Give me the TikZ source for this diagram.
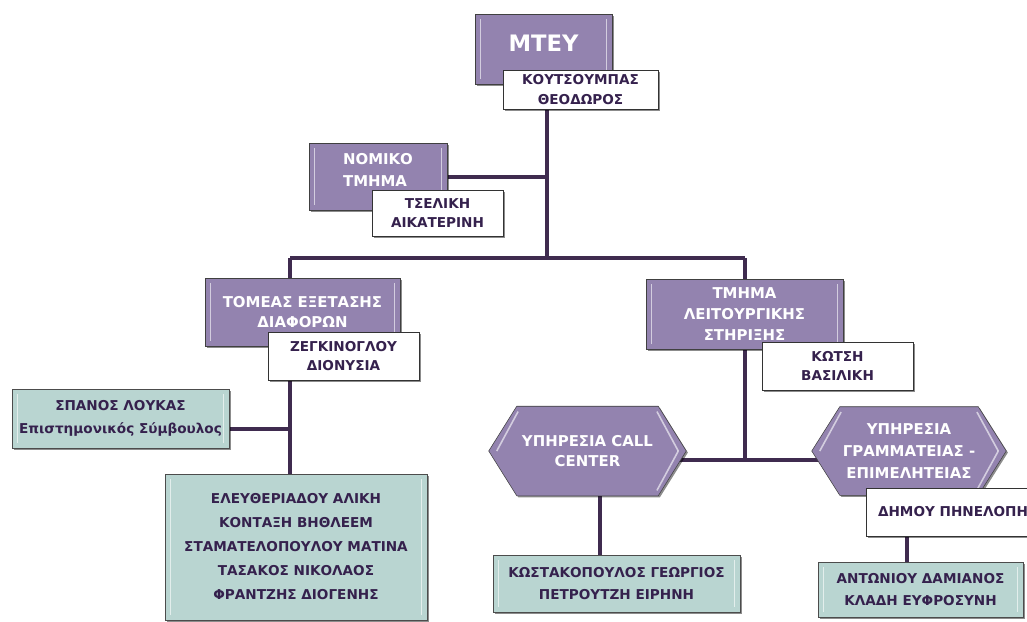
\documentclass[tikz,border=0pt]{standalone}
\usepackage{fontspec}
\setmainfont{DejaVu Sans}
\usetikzlibrary{shadows,backgrounds}
\definecolor{orgpurple}{HTML}{9383AF}
\definecolor{orggreen}{HTML}{B9D5D1}
\definecolor{orgline}{HTML}{3F2B4F}
\definecolor{orgtext}{HTML}{35214D}
\pgfdeclarelayer{lines}
\pgfsetlayers{lines,background,main}
\tikzset{
  sz/.style 2 args={minimum width={#1*0.75pt}, minimum height={#2*0.75pt}},
  boxshadow/.style={drop shadow={shadow xshift=1.2pt, shadow yshift=-1.2pt, opacity=0.45, fill=black}},
  bevel/.style={path picture={
    \draw[white,opacity=0.6,line width=1.2pt] ([xshift=4pt,yshift=-4pt]path picture bounding box.north west) -- ([xshift=4pt,yshift=4pt]path picture bounding box.south west);
    \draw[white,opacity=0.6,line width=1.2pt] ([xshift=-4pt,yshift=-4pt]path picture bounding box.north east) -- ([xshift=-4pt,yshift=4pt]path picture bounding box.south east);}},
  unitbox/.style={draw=black!75, fill=orgpurple, text=white, inner sep=0pt, align=center,
    font=\bfseries\fontsize{11.2}{15}\selectfont, boxshadow, bevel},
  namebox/.style={draw=black!80, fill=white, text=orgtext, inner sep=0pt, align=center,
    font=\bfseries\fontsize{10.2}{14.5}\selectfont, boxshadow},
  staffbox/.style={draw=black!70, fill=orggreen, text=orgtext, inner sep=0pt, align=center,
    font=\bfseries\fontsize{10.2}{17}\selectfont, boxshadow, bevel},
  hexbox/.style={inner sep=0pt, align=center, text=white, font=\bfseries\fontsize{11.2}{15}\selectfont},
  hexshape/.style={draw=black!75, fill=orgpurple, boxshadow},
  link/.style={draw=orgline, line width=3pt},
}
\begin{document}
\begin{tikzpicture}[x=0.75pt,y=-0.75pt]
\useasboundingbox (0,0) rectangle (1027,621);

\node[unitbox, sz={137}{70}, font=\bfseries\fontsize{17}{20}\selectfont, text depth=8pt] (mtey) at (543.5,49) {ΜΤΕΥ};
\node[namebox, sz={155}{39}] (mteyname) at (580.5,89.5) {ΚΟΥΤΣΟΥΜΠΑΣ\\ΘΕΟΔΩΡΟΣ};

\node[unitbox, sz={138}{67}, align=left, font=\bfseries\fontsize{11.2}{16.5}\selectfont, text depth=10pt] (nomiko) at (378,176.5) {ΝΟΜΙΚΟ\\ΤΜΗΜΑ};
\node[namebox, sz={131}{46}] (nomikoname) at (437.5,213) {ΤΣΕΛΙΚΗ\\ΑΙΚΑΤΕΡΙΝΗ};

\node[unitbox, sz={195}{68}] (tomeas) at (302.5,312) {ΤΟΜΕΑΣ ΕΞΕΤΑΣΗΣ\\ΔΙΑΦΟΡΩΝ};
\node[namebox, sz={151}{48}] (tomeasname) at (343.5,356) {ΖΕΓΚΙΝΟΓΛΟΥ\\ΔΙΟΝΥΣΙΑ};
\node[staffbox, sz={217}{59}] (spanos) at (120.5,418.5) {ΣΠΑΝΟΣ ΛΟΥΚΑΣ\\Επιστημονικός Σύμβουλος};
\node[staffbox, sz={262}{146}, font=\bfseries\fontsize{10.2}{18}\selectfont] (tomeasstaff) at (296,547)
  {ΕΛΕΥΘΕΡΙΑΔΟΥ ΑΛΙΚΗ\\ΚΟΝΤΑΞΗ ΒΗΘΛΕΕΜ\\ΣΤΑΜΑΤΕΛΟΠΟΥΛΟΥ ΜΑΤΙΝΑ\\ΤΑΣΑΚΟΣ ΝΙΚΟΛΑΟΣ\\ΦΡΑΝΤΖΗΣ ΔΙΟΓΕΝΗΣ};

\node[unitbox, sz={197}{70}, font=\bfseries\fontsize{11.2}{16}\selectfont] (leit) at (744.5,314) {ΤΜΗΜΑ\\ΛΕΙΤΟΥΡΓΙΚΗΣ\\ΣΤΗΡΙΞΗΣ};
\node[namebox, sz={151}{48}] (leitname) at (837.5,366) {ΚΩΤΣΗ\\ΒΑΣΙΛΙΚΗ};

\node[hexbox, sz={197}{89}] (callc) at (587.5,451) {ΥΠΗΡΕΣΙΑ CALL\\CENTER};
\node[hexbox, sz={194}{88}, font=\bfseries\fontsize{11.2}{16.5}\selectfont] (gramm) at (909,451) {ΥΠΗΡΕΣΙΑ\\ΓΡΑΜΜΑΤΕΙΑΣ -\\ΕΠΙΜΕΛΗΤΕΙΑΣ};
\node[namebox, sz={174}{48}] (grammname) at (953,512) {ΔΗΜΟΥ ΠΗΝΕΛΟΠΗ};
\node[staffbox, sz={247}{57}] (callcstaff) at (616.5,583.5) {ΚΩΣΤΑΚΟΠΟΥΛΟΣ ΓΕΩΡΓΙΟΣ\\ΠΕΤΡΟΥΤΖΗ ΕΙΡΗΝΗ};
\node[staffbox, sz={205}{55}] (grammstaff) at (920.5,589.5) {ΑΝΤΩΝΙΟΥ ΔΑΜΙΑΝΟΣ\\ΚΛΑΔΗ ΕΥΦΡΟΣΥΝΗ};

\begin{pgfonlayer}{background}
\foreach \h in {callc,gramm}{
  \filldraw[hexshape] (\h.west) -- ([xshift=21pt]\h.north west) -- ([xshift=-21pt]\h.north east)
    -- (\h.east) -- ([xshift=-21pt]\h.south east) -- ([xshift=21pt]\h.south west) -- cycle;
  \draw[white,opacity=0.6,line width=1.2pt] ([xshift=6pt]\h.west) -- ([xshift=22pt,yshift=-4pt]\h.north west);
  \draw[white,opacity=0.6,line width=1.2pt] ([xshift=-6pt]\h.east) -- ([xshift=-22pt,yshift=4pt]\h.south east);
  \draw[white,opacity=0.6,line width=1.2pt] ([xshift=-6pt]\h.east) -- ([xshift=-22pt,yshift=-4pt]\h.north east);
}
\end{pgfonlayer}

\begin{pgfonlayer}{lines}
\coordinate (busL) at (290,258);
\coordinate (busR) at (745,258);
\coordinate (trunk) at (547,258);
\coordinate (spanosjoin) at (290,429);
\coordinate (hexbus) at (745,460);
\draw[link] (busL) -- (busR);
\draw[link] (trunk |- mtey) -- (trunk);
\draw[link] (nomiko) -- (nomiko -| trunk);
\draw[link] (busL) -- (busL |- tomeasstaff.north);
\draw[link] (spanos.east |- spanosjoin) -- (spanosjoin);
\draw[link] (busR) -- (hexbus);
\draw[link] (callc |- hexbus) -- (gramm |- hexbus);
\draw[link] ([xshift=9pt]callc.center) -- ([xshift=9pt]callc.center |- callcstaff.north);
\draw[link] ([xshift=-1.5pt]gramm.center) -- ([xshift=-1.5pt]gramm.center |- grammstaff.north);
\end{pgfonlayer}
\end{tikzpicture}
\end{document}
